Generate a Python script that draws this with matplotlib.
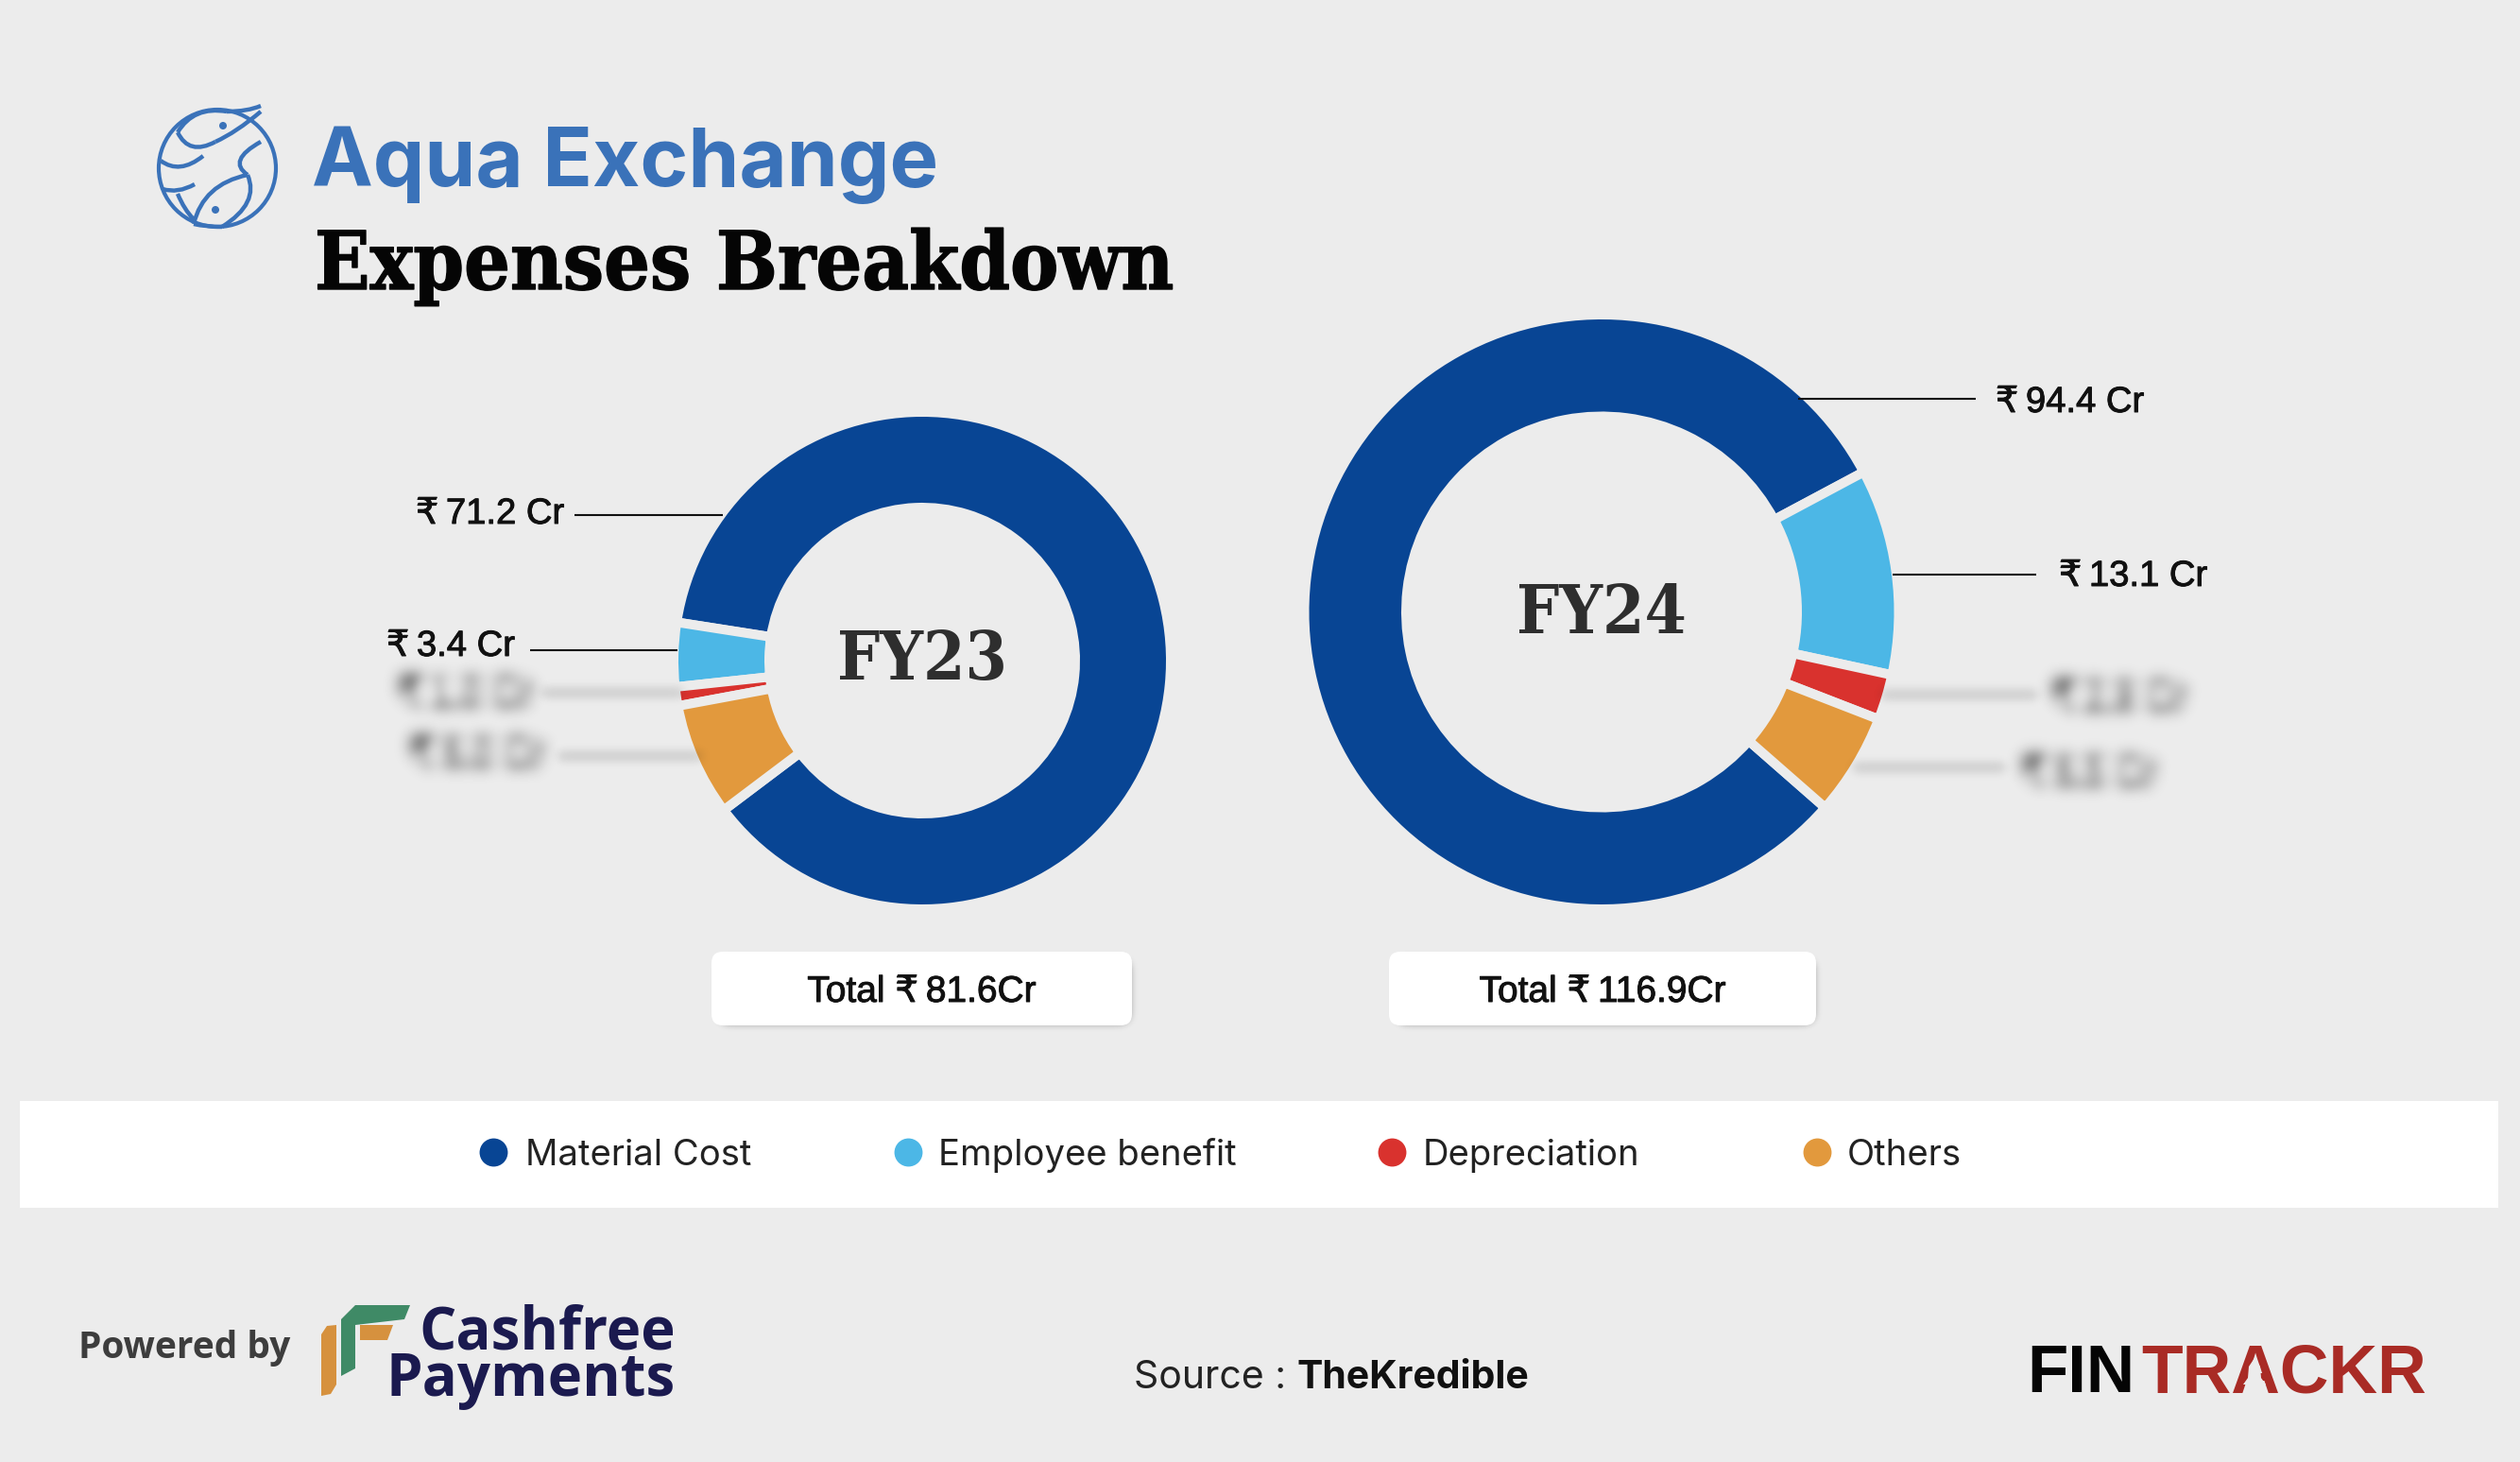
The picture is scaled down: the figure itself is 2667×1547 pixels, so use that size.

import numpy as np
import matplotlib
matplotlib.use("Agg")
from matplotlib import pyplot as plt
from matplotlib import patheffects as pe
from matplotlib.patches import Circle, FancyBboxPatch, PathPatch, Polygon
from matplotlib.path import Path

# data
categories = ["Material Cost", "Employee benefit", "Depreciation", "Others"]
cat_colors = ["#084594", "#4cb7e6", "#d9322e", "#e2993d"]
fy23_values = [71.2, 3.4, 1.0, 6.0]
fy24_values = [94.4, 13.1, 2.9, 6.5]
fy23_total = 81.6
fy24_total = 116.9

W, H = 2667, 1547
BG = "#ececec"
LAB = ["Liberation Sans", "DejaVu Sans"]

plt.rcParams["font.family"] = ["Inter", "DejaVu Sans"]
fig = plt.figure(figsize=(W / 100, H / 100), dpi=100, facecolor=BG)

# overlay in pixel coordinates, y going down
ax = fig.add_axes([0, 0, 1, 1], zorder=3)
ax.set_xlim(0, W)
ax.set_ylim(H, 0)
ax.axis("off")
ax.patch.set_alpha(0)


def blur(sigma):
    # gaussian blur for agg_filter
    def f(img, dpi):
        pad = int(sigma * 3)
        x = np.arange(-pad, pad + 1)
        k = np.exp(-0.5 * (x / sigma) ** 2)
        k = k / k.sum()
        out = np.pad(img, ((pad, pad), (pad, pad), (0, 0)))
        out = np.apply_along_axis(lambda m: np.convolve(m, k, mode="same"), 0, out)
        out = np.apply_along_axis(lambda m: np.convolve(m, k, mode="same"), 1, out)
        return out, -pad, -pad
    return f


def fat(w, col):
    # the reference type is a bit heavier than the regular cut
    return [pe.withStroke(linewidth=w, foreground=col)]


def donut(values, cx, cy, r_out, r_in, start, ccw):
    # gaps are drawn as a background coloured edge
    gap = 10
    R = r_out + gap / 2
    a = fig.add_axes([(cx - R) / W, 1 - (cy + R) / H, 2 * R / W, 2 * R / H], zorder=1)
    a.pie(values, colors=cat_colors, startangle=start, counterclock=ccw, radius=1,
          wedgeprops=dict(width=(r_out - r_in + gap) / R, edgecolor=BG, linewidth=gap * 0.72))
    a.set_xlim(-1, 1)
    a.set_ylim(-1, 1)


donut(fy23_values, 976, 699, 258, 167, 217, True)
donut(fy24_values, 1695, 647.5, 309.5, 212, -41.2, False)

ax.text(976, 700, "FY23", family="DejaVu Serif", weight="bold", fontsize=51, color="#2e2e2e",
        ha="center", va="center", stretch="condensed")
ax.text(1695, 650, "FY24", family="DejaVu Serif", weight="bold", fontsize=51, color="#2e2e2e",
        ha="center", va="center", stretch="condensed")


def rs(v):
    return "₹\u2009%.1f Cr" % v


# visible labels and leader lines
for val, x0, x1, ly, tx, ty in [(fy23_values[0], 608, 765, 545, 440, 544),
                                (fy23_values[1], 561, 717, 688, 409, 684),
                                (fy24_values[0], 1903, 2091, 422, 2112, 426),
                                (fy24_values[1], 2003, 2155, 608, 2179, 610)]:
    ax.plot([x0, x1], [ly, ly], color="#111111", lw=1.5, solid_capstyle="butt")
    ax.text(tx, ty, rs(val), family=LAB, fontsize=27.5, color="#111111", va="center",
            path_effects=fat(0.7, "#111111"))

# blurred labels and leader lines
for val, x0, x1, ly, tx, ty in [(fy23_values[2], 578, 719, 733, 423, 735),
                                (fy23_values[3], 595, 739, 800, 435, 799),
                                (fy24_values[2], 1995, 2152, 735, 2173, 739),
                                (fy24_values[3], 1965, 2118, 812, 2141, 819)]:
    ax.plot([x0, x1], [ly, ly], color="#777777", lw=4, alpha=0.3, agg_filter=blur(5))
    t = ax.text(tx, ty, rs(val), family=LAB, fontsize=28, color="#444444", va="center",
                path_effects=fat(2, "#444444"))
    t.set_agg_filter(blur(8))

# total boxes
for total, x0, x1 in [(fy23_total, 753, 1198), (fy24_total, 1470, 1922)]:
    y0, y1 = 1007, 1085
    sh = FancyBboxPatch((x0 + 12, y0 + 12), x1 - x0 - 18, y1 - y0 - 18, boxstyle="round,pad=3,rounding_size=10",
                        fc="#9a9a9a", ec="none", zorder=1, agg_filter=blur(4), alpha=0.7)
    ax.add_patch(sh)
    box = FancyBboxPatch((x0 + 8, y0 + 8), x1 - x0 - 16, y1 - y0 - 16, boxstyle="round,pad=8,rounding_size=12",
                         fc="white", ec="none", zorder=2)
    ax.add_patch(box)
    ax.text((x0 + x1) / 2, (y0 + y1) / 2 + 4, "Total ₹\u2009%.1fCr" % total, family=LAB, fontsize=28,
            color="#111111", ha="center", va="center", zorder=3, path_effects=fat(0.7, "#111111"))

# legend band
ax.add_patch(plt.Rectangle((21, 1165), 2623, 113, fc="white", ec="none", zorder=1))
for name, col, mx, tx in zip(categories, cat_colors, [522, 961, 1473, 1923], [556, 993, 1506, 1955]):
    ax.plot([mx], [1219], "o", ms=21.5, color=col, mec="none", zorder=2)
    ax.text(tx, 1223, name, fontsize=27.5, color="#222222", va="center", zorder=2)

# header
ax.text(330, 197, "Aqua Exchange", family="Inter", weight="bold", fontsize=62.5, color="#3a72b9", va="baseline")
ax.text(333, 306, "Expenses Breakdown", family="DejaVu Serif", stretch="condensed", weight="bold", fontsize=61.5,
        color="#050505", va="baseline", path_effects=fat(1, "#050505"))

# shrimp and fish logo
LOGO = "#3a72b9"
ax.add_patch(Circle((230, 178), 62, fc="none", ec=LOGO, lw=3))
logo_curves = [
    [(188, 140), (205, 112), (240, 118)],
    [(188, 140), (200, 165), (228, 150)],
    [(228, 150), (250, 140), (276, 118)],
    [(240, 118), (262, 118), (276, 112)],
    [(276, 150), (240, 170), (262, 185)],
    [(262, 185), (215, 195), (205, 237)],
    [(262, 185), (275, 215), (235, 240)],
    [(205, 237), (218, 240), (235, 240)],
    [(170, 170), (190, 185), (215, 165)],
    [(172, 200), (188, 205), (206, 195)],
    [(188, 205), (195, 222), (205, 232)],
]
for p in logo_curves:
    ax.add_patch(PathPatch(Path(p, [Path.MOVETO, Path.CURVE3, Path.CURVE3]), fc="none", ec=LOGO, lw=3.2))
ax.add_patch(Circle((236, 133), 4, fc=LOGO, ec="none"))
ax.add_patch(Circle((228, 222), 4, fc=LOGO, ec="none"))

# footer
ax.text(83, 1426, "Powered by", family="Open Sans", weight="bold", fontsize=28, color="#3d3d3d", va="center")
ax.text(443, 1427, "Cashfree", family="Open Sans", weight="bold", fontsize=44.5, color="#1b1a4f", va="baseline")
ax.text(409, 1477, "Payments", family="Open Sans", weight="bold", fontsize=44.5, color="#1b1a4f", va="baseline")
ax.add_patch(Polygon([(361, 1456), (361, 1396), (376, 1381), (434, 1381), (428, 1396), (376, 1402), (376, 1448)],
                     fc="#3f8a66", ec="none"))
ax.add_patch(Polygon([(381, 1402), (416, 1402), (410, 1418), (381, 1418)], fc="#d6913e", ec="none"))
ax.add_patch(Polygon([(340, 1477), (340, 1412), (346, 1403), (356, 1402), (356, 1465), (350, 1475)],
                     fc="#d6913e", ec="none"))

ax.text(1200, 1458, "Source : ", fontsize=29.5, color="#222222", va="center")
ax.text(1372, 1458, "TheKredible", fontsize=29.5, weight="bold", color="#111111", va="center")

ax.text(2145, 1473, "FIN", family="Liberation Sans", weight="bold", fontsize=51, color="#050505", va="baseline")
ax.text(2266, 1473, "TRACKR", family="Liberation Sans", weight="bold", fontsize=51.5, color="#a92b25", va="baseline")
# rocket cut out of the A
ax.add_patch(Polygon([(2386, 1437), (2392, 1446), (2393, 1458), (2398, 1465), (2390, 1465), (2390, 1473),
                      (2382, 1473), (2382, 1465), (2374, 1465), (2379, 1458), (2380, 1446)],
                     fc=BG, ec="none", zorder=4))

fig.savefig("out.png", dpi=100, facecolor=BG)
